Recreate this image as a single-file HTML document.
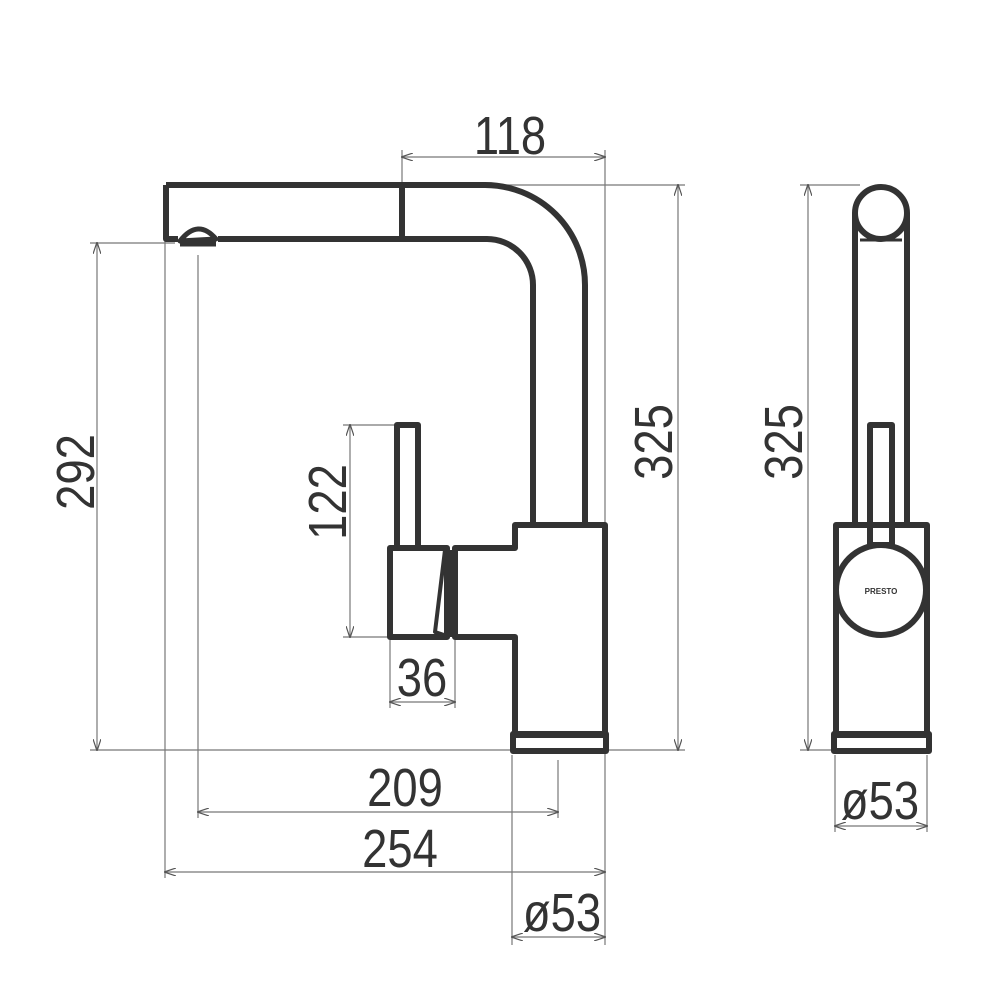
<!DOCTYPE html>
<html><head><style>body{margin:0;background:#fff}svg{display:block}</style></head><body>
<svg width="1000" height="1000" viewBox="0 0 1000 1000" xmlns="http://www.w3.org/2000/svg">
<defs>
<marker id="a" markerWidth="12" markerHeight="8" refX="11" refY="4" orient="auto-start-reverse" markerUnits="userSpaceOnUse"><path d="M0,0 L12,4 L0,8" fill="none" stroke="#555" stroke-width="1.2"/></marker>
</defs>
<g stroke="#777" stroke-width="1.2" fill="none">
<line x1="402" y1="150" x2="402" y2="185"/>
<line x1="605" y1="150" x2="605" y2="945"/>
<line x1="485" y1="185" x2="685" y2="185"/>
<line x1="607" y1="750" x2="685" y2="750"/>
<line x1="90" y1="243" x2="175" y2="243"/>
<line x1="90" y1="750" x2="512" y2="750"/>
<line x1="343" y1="425" x2="397" y2="425"/>
<line x1="343" y1="637" x2="390" y2="637"/>
<line x1="390" y1="640" x2="390" y2="708"/>
<line x1="455" y1="640" x2="455" y2="708"/>
<line x1="198" y1="255" x2="198" y2="818"/>
<line x1="558" y1="760" x2="558" y2="818"/>
<line x1="165" y1="240" x2="165" y2="878"/>
<line x1="512" y1="755" x2="512" y2="945"/>
<line x1="800" y1="185" x2="860" y2="185"/>
<line x1="800" y1="750" x2="833" y2="750"/>
<line x1="835" y1="755" x2="835" y2="832"/>
<line x1="927" y1="755" x2="927" y2="832"/>
<line x1="402" y1="157" x2="605" y2="157" marker-start="url(#a)" marker-end="url(#a)"/>
<line x1="678" y1="185" x2="678" y2="750" marker-start="url(#a)" marker-end="url(#a)"/>
<line x1="97" y1="243" x2="97" y2="750" marker-start="url(#a)" marker-end="url(#a)"/>
<line x1="350" y1="425" x2="350" y2="637" marker-start="url(#a)" marker-end="url(#a)"/>
<line x1="390" y1="702" x2="455" y2="702" marker-start="url(#a)" marker-end="url(#a)"/>
<line x1="198" y1="812" x2="558" y2="812" marker-start="url(#a)" marker-end="url(#a)"/>
<line x1="165" y1="872" x2="605" y2="872" marker-start="url(#a)" marker-end="url(#a)"/>
<line x1="512" y1="937" x2="605" y2="937" marker-start="url(#a)" marker-end="url(#a)"/>
<line x1="808" y1="185" x2="808" y2="750" marker-start="url(#a)" marker-end="url(#a)"/>
<line x1="835" y1="826" x2="927" y2="826" marker-start="url(#a)" marker-end="url(#a)"/>
</g>
<g stroke="#333" stroke-width="6" fill="none" stroke-linejoin="round">
<path d="M166,185 L485,185 A100,100 0 0 1 585,285 L585,523"/>
<path d="M166,185 L166,239 L178,239 M218,239 L487,239 A46,46 0 0 1 533,285 L533,523"/>
<line x1="402" y1="185" x2="402" y2="239"/>
<path d="M180,241 Q198,218 216,239 Z" stroke-width="5"/>
<line x1="180" y1="244" x2="216" y2="244" stroke-width="5"/>
<path d="M515,525 L605,525 L605,735 L515,735 L515,637 L455,637 L455,548 L515,548 Z"/>
<rect x="513" y="734" width="93" height="17"/>
<rect x="397" y="425" width="21" height="123"/>
<path d="M390,548 L447,548 L447,637 L390,637 Z"/>
<path d="M445,550 L435,632 L450,637" stroke-width="4"/>
<line x1="451" y1="550" x2="451" y2="637" stroke-width="4"/>
<circle cx="881" cy="213" r="26"/>
<path d="M855,213 L855,523 M907,213 L907,523"/>
<path d="M860,240 L902,240" stroke-width="3"/>
<rect x="836" y="525" width="91" height="210"/>
<rect x="834" y="734" width="95" height="17"/>
<rect x="870" y="425" width="22" height="120"/>
<circle cx="881" cy="590" r="45" fill="#fff"/>
</g>
<text x="881" y="594" font-family="Liberation Sans, sans-serif" font-size="8" font-weight="bold" text-anchor="middle" fill="#333">PRESTO</text>
<g font-family="Liberation Sans, sans-serif" font-size="54" fill="#333" text-anchor="middle">
<text transform="translate(510,154) scale(0.84,1)">118</text>
<text transform="translate(672,442) rotate(-90) scale(0.84,1)">325</text>
<text transform="translate(94,472) rotate(-90) scale(0.84,1)">292</text>
<text transform="translate(346,502) rotate(-90) scale(0.84,1)">122</text>
<text transform="translate(422,696) scale(0.84,1)">36</text>
<text transform="translate(405,806) scale(0.84,1)">209</text>
<text transform="translate(400,867) scale(0.84,1)">254</text>
<text transform="translate(562,931) scale(0.84,1)">ø53</text>
<text transform="translate(802,442) rotate(-90) scale(0.84,1)">325</text>
<text transform="translate(880,819) scale(0.84,1)">ø53</text>
</g>
</svg>
</body></html>
